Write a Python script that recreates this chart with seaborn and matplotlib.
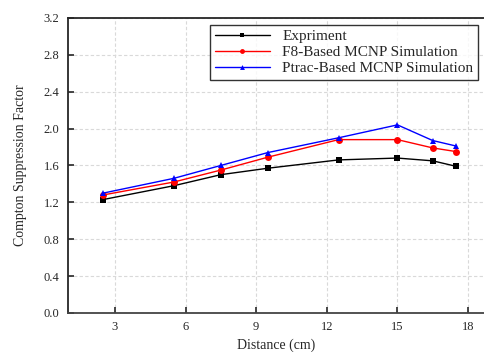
import pandas as pd
import matplotlib
matplotlib.use('Agg')
import matplotlib.pyplot as plt
import seaborn as sns

# distances (cm) and suppression factors
distance = [2.5, 5.5, 7.5, 9.5, 12.5, 15.0, 16.5, 17.5]
experiment = [1.23, 1.38, 1.50, 1.57, 1.66, 1.68, 1.65, 1.59]
f8_sim = [1.28, 1.42, 1.55, 1.69, 1.88, 1.88, 1.79, 1.75]
ptrac_sim = [1.30, 1.46, 1.60, 1.74, 1.90, 2.04, 1.87, 1.81]

series_names = ['Expriment', 'F8-Based MCNP Simulation', 'Ptrac-Based MCNP Simulation']
colors = ['black', 'red', 'blue']
markers = ['s', 'o', '^']

df = pd.DataFrame({
    'Distance': distance * 3,
    'Factor': experiment + f8_sim + ptrac_sim,
    'Series': [n for n in series_names for _ in distance],
})

sns.set_style('ticks')
plt.rcParams['font.family'] = ['Liberation Serif', 'DejaVu Serif']

fig = plt.figure(figsize=(4.85, 3.52), dpi=100)
ax = fig.add_axes([0.140, 0.111, 0.86, 0.838])

sns.lineplot(data=df, x='Distance', y='Factor', hue='Series', style='Series',
             palette=colors, markers=markers, dashes=False, markersize=5,
             markeredgewidth=0, linewidth=1, ax=ax)

ax.set_xlim(1, 18.72)
ax.set_ylim(0, 3.2)
ax.set_xticks([3, 6, 9, 12, 15, 18])
ax.set_yticks([0.0, 0.4, 0.8, 1.2, 1.6, 2.0, 2.4, 2.8, 3.2])
ax.yaxis.set_major_formatter(matplotlib.ticker.FormatStrFormatter('%.1f'))
ax.tick_params(direction='in', length=4, width=1.2, labelsize=9, pad=6)
ax.grid(True, color='#d9d9d9', linestyle=(0, (3, 2)), linewidth=0.8)
ax.spines['right'].set_visible(False)
for s in ['left', 'bottom', 'top']:
    ax.spines[s].set_linewidth(1.3)
ax.spines['bottom'].set_color('#444444')

ax.set_xlabel('Distance (cm)', fontsize=10)
ax.set_ylabel('Compton Suppression Factor', fontsize=10, labelpad=12)

leg = ax.legend(title=None, loc='upper right', bbox_to_anchor=(0.983, 0.976),
                borderaxespad=0, fontsize=11, frameon=True, fancybox=False,
                borderpad=0.3, labelspacing=0.15, handlelength=3.6,
                markerscale=0.7)
leg.get_frame().set_edgecolor('black')
leg.get_frame().set_linewidth(1.0)

fig.savefig('out.png', dpi=100)
